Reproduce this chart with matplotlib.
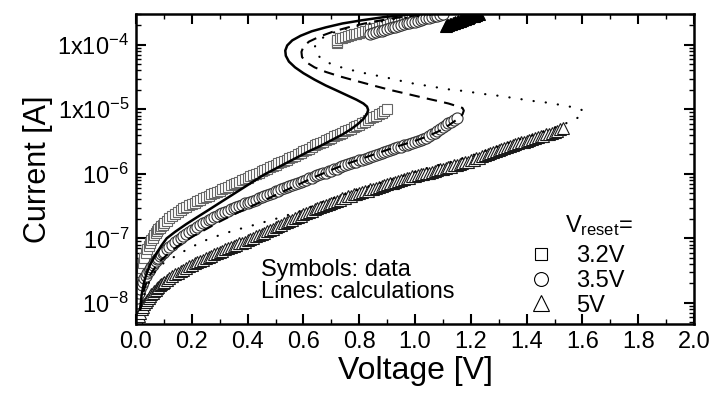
import numpy as np
import matplotlib.pyplot as plt
from matplotlib.lines import Line2D
from matplotlib.ticker import FixedLocator, FixedFormatter, MultipleLocator, FormatStrFormatter, LogLocator, NullFormatter

plt.rcParams['font.family'] = ['Liberation Sans', 'DejaVu Sans']
plt.rcParams['mathtext.fontset'] = 'custom'
plt.rcParams['mathtext.rm'] = 'Liberation Sans'
plt.rcParams['mathtext.it'] = 'Liberation Sans:italic'
plt.rcParams['mathtext.bf'] = 'Liberation Sans:bold'

# Vreset = 3.2 V (squares)
v_sq = [0.000, 0.003, 0.006, 0.009, 0.012, 0.015, 0.018, 0.021, 0.025, 0.030, 0.035, 0.040, 0.045,
        0.050, 0.055, 0.060, 0.065, 0.070, 0.075, 0.080, 0.085, 0.090, 0.095,
        0.10, 0.11, 0.12, 0.13, 0.14, 0.15, 0.16, 0.17, 0.18, 0.19, 0.20, 0.21, 0.22, 0.23, 0.24,
        0.25, 0.26, 0.27, 0.28, 0.29, 0.30, 0.31, 0.32, 0.33, 0.34, 0.35, 0.36, 0.37, 0.38, 0.39,
        0.40, 0.41, 0.42, 0.43, 0.44, 0.45, 0.46, 0.47, 0.48, 0.49, 0.50, 0.51, 0.52, 0.53, 0.54,
        0.55, 0.56, 0.57, 0.58, 0.59, 0.60, 0.61, 0.62, 0.63, 0.64, 0.65, 0.66, 0.67, 0.68, 0.69,
        0.70, 0.71, 0.72, 0.73, 0.74, 0.75, 0.76, 0.77, 0.78, 0.79, 0.80, 0.81, 0.82, 0.83, 0.84,
        0.85, 0.86, 0.87, 0.88, 0.89, 0.90,
        0.72, 0.72, 0.72, 0.73, 0.74, 0.75, 0.76, 0.77, 0.78, 0.79, 0.80, 0.81, 0.82, 0.83, 0.84,
        0.85, 0.86, 0.87, 0.88, 0.89, 0.90, 0.91, 0.92, 0.93, 0.94, 0.95, 0.96, 0.97, 0.98, 0.99,
        1.00, 1.01, 1.02, 1.03, 1.04, 1.05, 1.06]
log_i_sq = [-8.05, -7.93, -7.82, -7.73, -7.65, -7.58, -7.52, -7.46, -7.39, -7.30, -7.23, -7.17, -7.12,
            -7.07, -7.03, -6.99, -6.955, -6.92, -6.89, -6.86, -6.835, -6.81, -6.79,
            -6.77, -6.73, -6.69, -6.655, -6.62, -6.59, -6.56, -6.535, -6.51, -6.49, -6.47, -6.445,
            -6.42, -6.40, -6.38, -6.36, -6.34, -6.32, -6.30, -6.28, -6.26, -6.24, -6.22, -6.20,
            -6.18, -6.16, -6.14, -6.12, -6.10, -6.08, -6.06, -6.04, -6.02, -6.00, -5.98, -5.96,
            -5.94, -5.92, -5.90, -5.88, -5.86, -5.84, -5.82, -5.80, -5.78, -5.76, -5.74, -5.72,
            -5.70, -5.675, -5.65, -5.63, -5.61, -5.585, -5.56, -5.54, -5.52, -5.50, -5.48, -5.46,
            -5.44, -5.42, -5.40, -5.38, -5.36, -5.34, -5.32, -5.30, -5.28, -5.26, -5.24, -5.215,
            -5.19, -5.165, -5.14, -5.12, -5.10, -5.075, -5.05, -5.025, -5.00,
            -3.98, -3.95, -3.92, -3.90, -3.89, -3.88, -3.86, -3.85, -3.84, -3.83, -3.81, -3.80,
            -3.79, -3.78, -3.76, -3.75, -3.74, -3.73, -3.71, -3.70, -3.69, -3.68, -3.67, -3.66,
            -3.65, -3.64, -3.63, -3.62, -3.61, -3.60, -3.59, -3.58, -3.57, -3.56, -3.55, -3.54, -3.53]

# Vreset = 3.5 V (circles)
v_ci = [0.000, 0.005, 0.010, 0.015, 0.020, 0.025, 0.030, 0.035, 0.040, 0.045, 0.050, 0.055, 0.060,
        0.065, 0.070, 0.075, 0.080, 0.085, 0.090, 0.095,
        0.10, 0.11, 0.12, 0.13, 0.14, 0.15, 0.16, 0.17, 0.18, 0.19, 0.20, 0.21, 0.22, 0.23, 0.24,
        0.25, 0.26, 0.27, 0.28, 0.29, 0.30, 0.31, 0.32, 0.33, 0.34, 0.35, 0.36, 0.37, 0.38, 0.39,
        0.40, 0.41, 0.42, 0.43, 0.44, 0.45, 0.46, 0.47, 0.48, 0.49, 0.50, 0.51, 0.52, 0.53, 0.54,
        0.55, 0.56, 0.57, 0.58, 0.59, 0.60, 0.61, 0.62, 0.63, 0.64, 0.65, 0.66, 0.67, 0.68, 0.69,
        0.70, 0.71, 0.72, 0.73, 0.74, 0.75, 0.76, 0.77, 0.78, 0.79, 0.80, 0.81, 0.82, 0.83, 0.84,
        0.85, 0.86, 0.87, 0.88, 0.89, 0.90, 0.91, 0.92, 0.93, 0.94, 0.95, 0.96, 0.97, 0.98, 0.99,
        1.00, 1.01, 1.02, 1.03, 1.04, 1.05, 1.06, 1.07, 1.08, 1.09, 1.10, 1.11, 1.12, 1.13, 1.14,
        1.15,
        0.84, 0.85, 0.86, 0.87, 0.88, 0.89, 0.90, 0.91, 0.92, 0.93, 0.94, 0.95, 0.96, 0.97, 0.98,
        0.99, 1.00, 1.01, 1.02, 1.03, 1.04, 1.05, 1.06, 1.07, 1.08, 1.09, 1.10]
log_i_ci = [-8.00, -7.92, -7.85, -7.78, -7.72, -7.67, -7.62, -7.58, -7.54, -7.50, -7.47, -7.44, -7.41,
            -7.38, -7.35, -7.32, -7.30, -7.27, -7.25, -7.23,
            -7.21, -7.17, -7.13, -7.10, -7.06, -7.02, -6.99, -6.96, -6.93, -6.90, -6.87, -6.85,
            -6.82, -6.80, -6.77, -6.75, -6.72, -6.70, -6.67, -6.65, -6.63, -6.61, -6.59, -6.57,
            -6.55, -6.53, -6.51, -6.50, -6.48, -6.46, -6.45, -6.43, -6.42, -6.40, -6.38, -6.36,
            -6.34, -6.33, -6.31, -6.29, -6.27, -6.26, -6.24, -6.22, -6.21, -6.19, -6.17, -6.16,
            -6.14, -6.12, -6.11, -6.09, -6.07, -6.06, -6.04, -6.02, -6.01, -5.99, -5.98, -5.96,
            -5.95, -5.93, -5.92, -5.90, -5.88, -5.87, -5.85, -5.84, -5.82, -5.81, -5.79, -5.78,
            -5.77, -5.75, -5.74, -5.72, -5.71, -5.69, -5.68, -5.66, -5.65, -5.63, -5.62, -5.60,
            -5.59, -5.58, -5.56, -5.55, -5.54, -5.52, -5.51, -5.49, -5.48, -5.46, -5.44, -5.41,
            -5.39, -5.36, -5.34, -5.31, -5.28, -5.25, -5.22, -5.20, -5.17, -5.14,
            -3.83, -3.815, -3.80, -3.79, -3.78, -3.765, -3.75, -3.74, -3.73, -3.72, -3.71, -3.695,
            -3.68, -3.67, -3.66, -3.65, -3.64, -3.625, -3.61, -3.60, -3.59, -3.58, -3.57, -3.56,
            -3.55, -3.54, -3.53]

# Vreset = 5 V (triangles), lower branch
v_tr = [0.000, 0.005, 0.010, 0.015, 0.020, 0.025, 0.030, 0.035, 0.040, 0.045, 0.050, 0.055, 0.060,
        0.065, 0.070, 0.075, 0.080, 0.085, 0.090, 0.095,
        0.10, 0.11, 0.12, 0.13, 0.14, 0.15, 0.16, 0.17, 0.18, 0.19, 0.20, 0.21, 0.22, 0.23, 0.24,
        0.25, 0.26, 0.27, 0.28, 0.29, 0.30, 0.31, 0.32, 0.33, 0.34, 0.35, 0.36, 0.37, 0.38, 0.39,
        0.40, 0.41, 0.42, 0.43, 0.44, 0.45, 0.46, 0.47, 0.48, 0.49, 0.50, 0.51, 0.52, 0.53, 0.54,
        0.55, 0.56, 0.57, 0.58, 0.59, 0.60, 0.61, 0.62, 0.63, 0.64, 0.65, 0.66, 0.67, 0.68, 0.69,
        0.70, 0.71, 0.72, 0.73, 0.74, 0.75, 0.76, 0.77, 0.78, 0.79, 0.80, 0.81, 0.82, 0.83, 0.84,
        0.85, 0.86, 0.87, 0.88, 0.89, 0.90, 0.91, 0.92, 0.93, 0.94, 0.95, 0.96, 0.97, 0.98, 0.99,
        1.00, 1.01, 1.02, 1.03, 1.04, 1.05, 1.06, 1.07, 1.08, 1.09, 1.10, 1.11, 1.12, 1.13, 1.14,
        1.15, 1.16, 1.17, 1.18, 1.19, 1.20, 1.21, 1.22, 1.23, 1.24, 1.25, 1.26, 1.27, 1.28, 1.29,
        1.30, 1.31, 1.32, 1.33, 1.34, 1.35, 1.36, 1.37, 1.38, 1.39, 1.40, 1.41, 1.42, 1.43, 1.44,
        1.45, 1.46, 1.47, 1.48, 1.49, 1.50, 1.51, 1.52, 1.53]
log_i_tr = [-8.30, -8.25, -8.20, -8.15, -8.10, -8.06, -8.02, -7.98, -7.95, -7.92, -7.89, -7.865, -7.84,
            -7.815, -7.795, -7.77, -7.75, -7.73, -7.71, -7.69,
            -7.67, -7.64, -7.61, -7.585, -7.56, -7.535, -7.51, -7.485, -7.46, -7.435, -7.41, -7.39,
            -7.37, -7.35, -7.33, -7.31, -7.29, -7.27, -7.25, -7.23, -7.21, -7.19, -7.17, -7.155,
            -7.14, -7.12, -7.10, -7.08, -7.065, -7.05, -7.03, -7.01, -6.99, -6.97, -6.95, -6.93,
            -6.91, -6.89, -6.87, -6.85, -6.83, -6.81, -6.79, -6.77, -6.75, -6.73, -6.71, -6.69,
            -6.67, -6.65, -6.63, -6.61, -6.59, -6.57, -6.55, -6.53, -6.52, -6.50, -6.48, -6.47,
            -6.45, -6.43, -6.42, -6.40, -6.38, -6.37, -6.35, -6.34, -6.32, -6.31, -6.30, -6.28,
            -6.27, -6.26, -6.24, -6.23, -6.22, -6.20, -6.19, -6.18, -6.16, -6.15, -6.14, -6.12,
            -6.11, -6.10, -6.08, -6.07, -6.06, -6.04, -6.03, -6.02, -6.01, -6.00, -5.99, -5.98,
            -5.97, -5.96, -5.94, -5.93, -5.92, -5.91, -5.90, -5.89, -5.87, -5.86, -5.85, -5.83,
            -5.82, -5.81, -5.79, -5.78, -5.76, -5.75, -5.73, -5.71, -5.70, -5.68, -5.66, -5.65,
            -5.63, -5.61, -5.60, -5.58, -5.57, -5.55, -5.54, -5.53, -5.51, -5.50, -5.49, -5.47,
            -5.46, -5.45, -5.43, -5.42, -5.41, -5.39, -5.38, -5.36, -5.35, -5.33, -5.31, -5.29]

# Vreset = 5 V (triangles), upper cluster near compliance
v_tr_top = [1.11, 1.115, 1.12, 1.125, 1.13, 1.135, 1.14, 1.145, 1.15, 1.155, 1.16, 1.165, 1.17,
            1.175, 1.18, 1.185, 1.19, 1.195, 1.20, 1.21, 1.22, 1.23]
log_i_tr_top = [-3.71, -3.70, -3.69, -3.68, -3.675, -3.67, -3.66, -3.65, -3.64, -3.635, -3.63, -3.62,
                -3.61, -3.60, -3.595, -3.59, -3.58, -3.57, -3.56, -3.55, -3.54, -3.53]

# calculations
v_calc_32 = [0.015, 0.02, 0.03, 0.04, 0.05, 0.07, 0.09, 0.11, 0.14, 0.18, 0.22, 0.26, 0.30, 0.34,
             0.38, 0.42, 0.46, 0.50, 0.54, 0.58, 0.62, 0.66, 0.70, 0.74, 0.77, 0.795, 0.815, 0.828,
             0.832, 0.828, 0.815, 0.79, 0.76, 0.72, 0.68, 0.64, 0.60, 0.57, 0.548, 0.537, 0.535,
             0.542, 0.56, 0.59, 0.63, 0.68, 0.74, 0.81, 0.89, 0.98, 1.08, 1.18]
i_calc_32 = [7.9e-9, 1.32e-8, 2.19e-8, 3.02e-8, 3.89e-8, 5.5e-8, 7.6e-8, 1.0e-7, 1.26e-7, 1.66e-7,
             2.14e-7, 2.75e-7, 3.55e-7, 4.57e-7, 5.89e-7, 7.59e-7, 9.77e-7, 1.2e-6, 1.48e-6, 1.82e-6,
             2.24e-6, 2.69e-6, 3.31e-6, 4.07e-6, 4.9e-6, 5.89e-6, 7.08e-6, 8.51e-6, 9.77e-6, 1.1e-5,
             1.23e-5, 1.41e-5, 1.62e-5, 1.95e-5, 2.34e-5, 2.88e-5, 3.63e-5, 4.47e-5, 5.5e-5, 6.76e-5,
             8.13e-5, 9.77e-5, 1.17e-4, 1.38e-4, 1.62e-4, 1.86e-4, 2.14e-4, 2.4e-4, 2.69e-4, 2.95e-4,
             3.24e-4, 3.55e-4]

v_calc_35 = [0.015, 0.02, 0.03, 0.04, 0.05, 0.07, 0.09, 0.12, 0.16, 0.20, 0.25, 0.30, 0.35, 0.40,
             0.46, 0.52, 0.58, 0.64, 0.70, 0.76, 0.82, 0.88, 0.94, 1.00, 1.05, 1.09, 1.12, 1.15, 1.17,
             1.175, 1.17, 1.15, 1.12, 1.08, 1.03, 0.97, 0.91, 0.85, 0.79, 0.73, 0.68, 0.64, 0.61,
             0.595, 0.593, 0.60, 0.62, 0.66, 0.71, 0.77, 0.84, 0.92, 1.01, 1.11, 1.20]
i_calc_35 = [7.9e-9, 1.12e-8, 1.66e-8, 2.19e-8, 2.69e-8, 3.63e-8, 4.57e-8, 6.03e-8, 8.13e-8, 1.05e-7,
             1.38e-7, 1.82e-7, 2.34e-7, 2.95e-7, 3.89e-7, 5.13e-7, 6.76e-7, 8.91e-7, 1.15e-6, 1.45e-6,
             1.78e-6, 2.19e-6, 2.69e-6, 3.24e-6, 3.89e-6, 4.68e-6, 5.62e-6, 6.92e-6, 8.32e-6, 9.55e-6,
             1.05e-5, 1.12e-5, 1.23e-5, 1.35e-5, 1.51e-5, 1.74e-5, 2.0e-5, 2.34e-5, 2.75e-5, 3.24e-5,
             3.8e-5, 4.47e-5, 5.37e-5, 6.46e-5, 7.76e-5, 9.33e-5, 1.12e-4, 1.35e-4, 1.62e-4, 1.91e-4,
             2.24e-4, 2.57e-4, 2.88e-4, 3.24e-4, 3.55e-4]

v_calc_5 = [0.02, 0.03, 0.04, 0.05, 0.07, 0.10, 0.14, 0.18, 0.22, 0.26, 0.30, 0.35, 0.40, 0.45, 0.50,
            0.55, 0.60, 0.66, 0.72, 0.78, 0.84, 0.90, 0.96, 1.02, 1.08, 1.14, 1.20, 1.26, 1.32, 1.38,
            1.44, 1.49, 1.54, 1.58, 1.60, 1.605, 1.59, 1.57, 1.53, 1.48, 1.42, 1.36, 1.30, 1.24, 1.18,
            1.12, 1.05, 0.98, 0.90, 0.82, 0.75, 0.70, 0.665, 0.645, 0.64, 0.65, 0.68, 0.72, 0.78, 0.85,
            0.93, 1.02, 1.12, 1.22]
i_calc_5 = [8.9e-9, 1.32e-8, 1.78e-8, 2.24e-8, 3.16e-8, 4.17e-8, 5.25e-8, 6.61e-8, 8.13e-8, 9.77e-8,
            1.12e-7, 1.32e-7, 1.51e-7, 1.74e-7, 2.0e-7, 2.34e-7, 2.75e-7, 3.55e-7, 4.37e-7, 5.37e-7,
            6.46e-7, 7.76e-7, 9.33e-7, 1.15e-6, 1.35e-6, 1.58e-6, 1.91e-6, 2.34e-6, 2.88e-6, 3.47e-6,
            4.17e-6, 5.01e-6, 6.03e-6, 7.24e-6, 8.32e-6, 9.33e-6, 1.02e-5, 1.07e-5, 1.15e-5, 1.26e-5,
            1.35e-5, 1.48e-5, 1.62e-5, 1.74e-5, 1.91e-5, 2.04e-5, 2.29e-5, 2.57e-5, 3.09e-5, 3.63e-5,
            4.27e-5, 5.01e-5, 6.03e-5, 7.41e-5, 9.12e-5, 1.12e-4, 1.38e-4, 1.62e-4, 1.91e-4, 2.19e-4,
            2.51e-4, 2.82e-4, 3.16e-4, 3.55e-4]

legend_labels = ['3.2V', '3.5V', '5V']
y_major = [1e-8, 1e-7, 1e-6, 1e-5, 1e-4]
y_labels = [r'$\mathregular{10^{-8}}$', r'$\mathregular{10^{-7}}$', r'$\mathregular{10^{-6}}$',
            r'$\mathregular{1x10^{-5}}$', r'$\mathregular{1x10^{-4}}$']

fig = plt.figure(figsize=(7.12, 3.95), dpi=100)
ax = fig.add_axes([136 / 712, 1 - 324 / 395, 558 / 712, 310 / 395])

ax.plot(v_sq, 10.0 ** np.array(log_i_sq), ls='none', marker='s', ms=7.5, mfc='white', mec='0.4',
        mew=0.8, zorder=2)
ax.plot(v_ci, 10.0 ** np.array(log_i_ci), ls='none', marker='o', ms=8, mfc='white', mec='0.2',
        mew=0.8, zorder=2)
ax.plot(v_tr, 10.0 ** np.array(log_i_tr), ls='none', marker='^', ms=9, mfc='white', mec='0.1',
        mew=0.8, zorder=2)
ax.plot(v_tr_top, 10.0 ** np.array(log_i_tr_top), ls='none', marker='^', ms=9, mfc='black',
        mec='black', mew=0.8, zorder=2)

ax.plot(v_calc_32, i_calc_32, color='black', lw=1.8, zorder=3)
ax.plot(v_calc_35, i_calc_35, color='black', lw=1.5, ls=(0, (5, 3.5)), zorder=3)
ax.plot(v_calc_5, i_calc_5, color='black', lw=1.6, ls=(0, (0.1, 5.4)), dash_capstyle='round', zorder=3)

ax.set_yscale('log')
ax.set_xlim(0, 2.0)
ax.set_ylim(4.7e-9, 3.0e-4)

ax.xaxis.set_major_locator(MultipleLocator(0.2))
ax.xaxis.set_minor_locator(MultipleLocator(0.1))
ax.xaxis.set_major_formatter(FormatStrFormatter('%.1f'))
ax.yaxis.set_major_locator(FixedLocator(y_major))
ax.yaxis.set_major_formatter(FixedFormatter(y_labels))
ax.yaxis.set_minor_locator(LogLocator(base=10, subs=np.arange(2, 10), numticks=20))
ax.yaxis.set_minor_formatter(NullFormatter())

ax.tick_params(which='both', direction='in', top=True, right=True)
ax.tick_params(which='major', length=7, width=1.5, labelsize=17, pad=5)
ax.tick_params(which='minor', length=3.5, width=1.0)
for s in ax.spines.values():
    s.set_linewidth(1.8)

ax.set_xlabel('Voltage [V]', fontsize=23, labelpad=2)
ax.set_ylabel('Current [A]', fontsize=22, labelpad=3)

ax.text(0.224, 0.155, 'Symbols: data', transform=ax.transAxes, fontsize=17, va='baseline')
ax.text(0.224, 0.084, 'Lines: calculations', transform=ax.transAxes, fontsize=17, va='baseline')
ax.text(0.769, 0.297, r'$\mathregular{V_{reset}}$=', transform=ax.transAxes, fontsize=17, va='baseline')

handles = [Line2D([], [], ls='none', marker='s', ms=9, mfc='white', mec='black', mew=0.8),
           Line2D([], [], ls='none', marker='o', ms=10, mfc='white', mec='black', mew=0.8),
           Line2D([], [], ls='none', marker='^', ms=11, mfc='white', mec='black', mew=0.8)]
ax.legend(handles, legend_labels, loc='upper left', bbox_to_anchor=(0.706, 0.255), frameon=False,
          fontsize=17, handlelength=0.95, handletextpad=1.0, labelspacing=0.12, borderpad=0,
          borderaxespad=0)

fig.savefig('out.png', dpi=100)
